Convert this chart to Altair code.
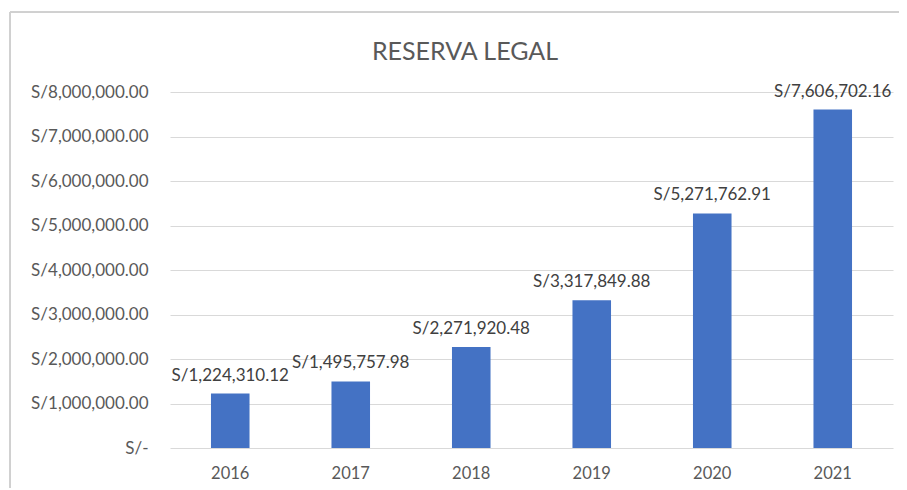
import altair as alt
import pandas as pd

years = ["2016", "2017", "2018", "2019", "2020", "2021"]
values = [1224310.12, 1495757.98, 2271920.48, 3317849.88, 5271762.91, 7606702.16]
labels = ["S/1,224,310.12", "S/1,495,757.98", "S/2,271,920.48", "S/3,317,849.88", "S/5,271,762.91", "S/7,606,702.16"]
y_ticks = [0, 1000000, 2000000, 3000000, 4000000, 5000000, 6000000, 7000000, 8000000]
title_text = ["RESERVA LEGAL"]

df = pd.DataFrame({"year": years, "value": values, "label": labels})
tdf = pd.DataFrame({"t": title_text})

FONT = "Lato"

x = alt.X("year:N", title=None, sort=years,
          scale=alt.Scale(paddingInner=0.68, paddingOuter=0.34),
          axis=alt.Axis(labelAngle=0, labelFontSize=16.5, labelColor="#595959", labelFont=FONT,
                        labelPadding=17, ticks=False, domain=False, grid=False))
y = alt.Y("value:Q", title=None,
          scale=alt.Scale(domain=[0, 8000000], nice=False),
          axis=alt.Axis(values=y_ticks, labelFontSize=17, labelColor="#595959", labelFont=FONT,
                        labelPadding=22, ticks=False, domain=False, grid=True,
                        gridColor="#d9d9d9", gridWidth=1,
                        labelExpr="datum.value == 0 ? 'S/-' : 'S/' + format(datum.value, ',.2f')"))

bars = alt.Chart(df).mark_bar(color="#4472C4").encode(x=x, y=y)
text = alt.Chart(df).mark_text(baseline="bottom", dy=-9, fontSize=17, color="#404040", font=FONT).encode(
    x=alt.X("year:N", sort=years), y="value:Q", text="label:N")

title = alt.Chart(tdf).mark_text(baseline="alphabetic", align="center", fontSize=25,
                                 color="#595959", font=FONT).encode(
    x=alt.value(295), y=alt.value(-32), text="t:N")

frame_top = alt.Chart(df).mark_rule(color="#d0d0d0", strokeWidth=1).encode(
    x=alt.value(-160), x2=alt.value(737), y=alt.value(-80))
frame_left = alt.Chart(df).mark_rule(color="#d0d0d0", strokeWidth=1).encode(
    x=alt.value(-160), y=alt.value(-80), y2=alt.value(400))

chart = alt.layer(frame_top, frame_left, bars, text, title).properties(
    width=723, height=356,
    autosize=alt.AutoSizeParams(type="none"),
    padding={"left": 162, "top": 84, "right": 6, "bottom": 40},
).configure(background="white").configure_view(stroke=None)

chart.save("out.html", embed_options={"renderer": "svg", "actions": False})
